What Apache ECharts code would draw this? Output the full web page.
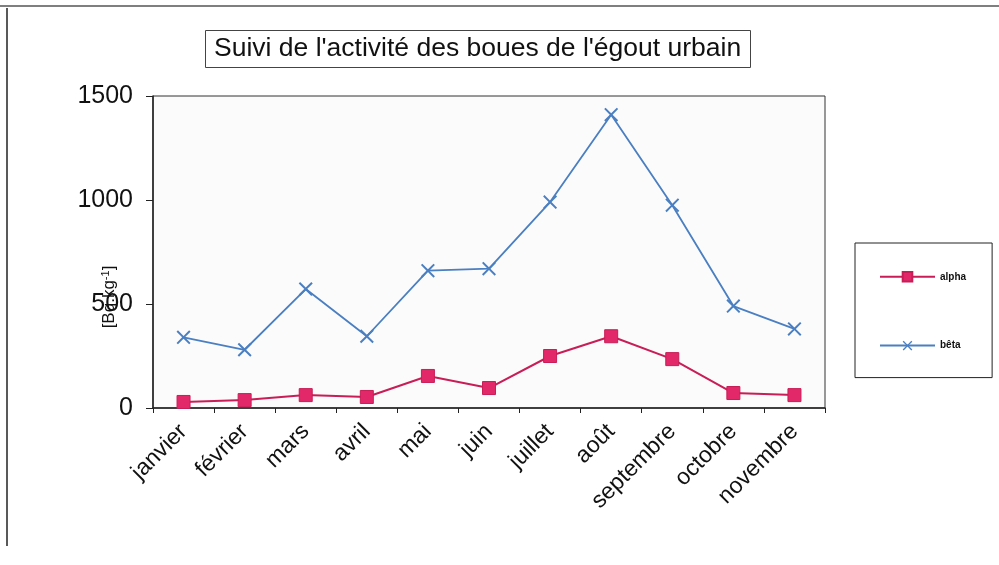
<!DOCTYPE html>
<meta charset="UTF-8">
<style>body { margin: 0; }</style>
<script src="https://cdn.jsdelivr.net/npm/echarts@6/dist/echarts.min.js"></script>
<div id="main" style="width: 999px; height: 565px;"></div>
<script>
    var months = ['janvier', 'février', 'mars', 'avril', 'mai', 'juin', 'juillet', 'août', 'septembre', 'octobre', 'novembre'];
    var alpha = [29, 38, 62, 53, 154, 96, 250, 345, 235, 72, 62];
    var beta = [340, 280, 572, 345, 660, 670, 990, 1410, 975, 490, 380];
    var yTicks = [0, 500, 1000, 1500];

    // filled X shape for the bêta markers
    var crossPath = 'path://M0,1L1,0L5,4L9,0L10,1L6,5L10,9L9,10L5,6L1,10L0,9L4,5Z';

    var mychart = echarts.init(document.getElementById('main'));
    var font = 'Liberation Sans, Arial, sans-serif';

    option = {
        backgroundColor: '#fff',
        animation: false,
        title: {
            text: "Suivi de l'activité des boues de l'égout urbain",
            left: 205,
            top: 30,
            padding: [5, 10, 6, 9],
            borderColor: '#444',
            borderWidth: 1,
            textStyle: {
                fontFamily: font,
                fontSize: 26.5,
                fontWeight: 'normal',
                color: '#111'
            }
        },
        legend: {
            orient: 'vertical',
            left: 855,
            top: 243,
            padding: [28, 26, 27, 24],
            borderColor: '#222',
            borderWidth: 1,
            itemGap: 58,
            itemWidth: 55,
            itemHeight: 12,
            data: ['alpha', 'bêta'],
            textStyle: {
                fontFamily: font,
                fontSize: 10,
                fontWeight: 'bold',
                color: '#111'
            }
        },
        grid: {
            left: 153,
            top: 96,
            width: 672,
            height: 312,
            show: true,
            backgroundColor: '#fbfbfb',
            borderColor: '#333',
            borderWidth: 1
        },
        xAxis: {
            type: 'category',
            data: months,
            boundaryGap: true,
            axisLine: { lineStyle: { color: '#222', width: 1.5 } },
            axisTick: { show: true, length: 5, inside: false, lineStyle: { color: '#222' } },
            axisLabel: {
                rotate: 45,
                interval: 0,
                margin: 20,
                fontFamily: font,
                fontSize: 23,
                color: '#111'
            }
        },
        yAxis: {
            type: 'value',
            min: yTicks[0],
            max: yTicks[yTicks.length - 1],
            interval: 500,
            name: '[Bq.kg{sup|-1}]',
            nameLocation: 'middle',
            nameRotate: 90,
            nameGap: 34,
            nameMoveOverlap: false,
            nameTextStyle: {
                fontFamily: font,
                fontSize: 17,
                color: '#111',
                padding: [0, 90, 0, 0],
                rich: {
                    sup: { fontFamily: font, fontSize: 11, verticalAlign: 'top', padding: [0, 0, 8, 0], color: '#111' }
                }
            },
            axisLine: { show: true, lineStyle: { color: '#222', width: 1.5 } },
            axisTick: { show: true, length: 7, lineStyle: { color: '#222' } },
            splitLine: { show: false },
            axisLabel: {
                margin: 20,
                fontFamily: font,
                fontSize: 25,
                color: '#111',
                formatter: function (v) { return String(v); }
            }
        },
        series: [
            {
                name: 'alpha',
                type: 'line',
                data: alpha,
                symbol: 'rect',
                symbolSize: 13,
                itemStyle: { color: '#e3286a', borderColor: '#c81d57', borderWidth: 1 },
                lineStyle: { color: '#c81d57', width: 2 }
            },
            {
                name: 'bêta',
                type: 'line',
                data: beta,
                symbol: crossPath,
                symbolSize: 14,
                itemStyle: { color: '#4a7fc1' },
                lineStyle: { color: '#4a7fc1', width: 1.8 }
            }
        ],
        graphic: [
            { type: 'line', shape: { x1: 7, y1: 8, x2: 7, y2: 546 }, style: { stroke: '#222', lineWidth: 1.5 } },
            { type: 'line', shape: { x1: 0, y1: 6, x2: 999, y2: 6 }, style: { stroke: '#555', lineWidth: 1.5 } }
        ]
    };
    mychart.setOption(option);
</script>
